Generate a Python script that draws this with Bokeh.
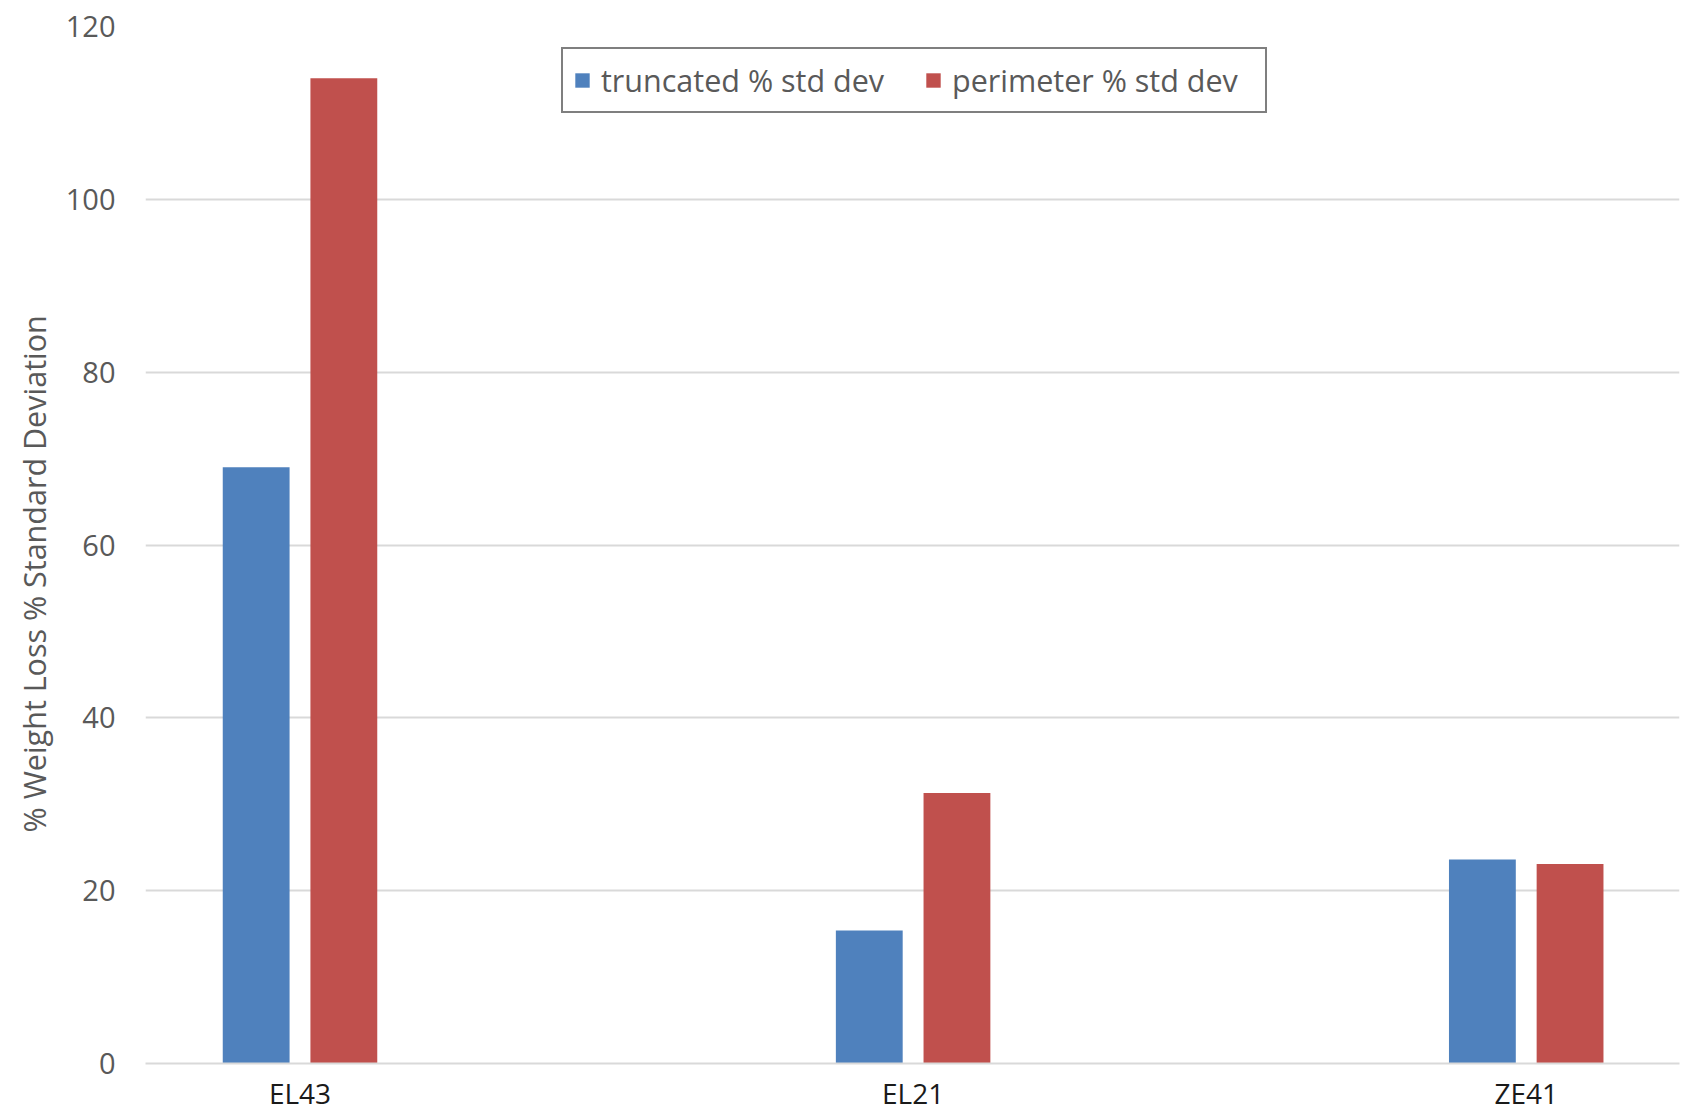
from bokeh.plotting import figure
from bokeh.models import ColumnDataSource, Range1d, FixedTicker, Legend, Title
from bokeh.transform import dodge
from bokeh.embed import file_html
from bokeh.resources import INLINE

categories = ["EL43", "EL21", "ZE41"]
truncated = [69.0, 15.4, 23.6]
perimeter = [114.0, 31.3, 23.1]
y_ticks = [0, 20, 40, 60, 80, 100, 120]
y_title = "% Weight Loss % Standard Deviation"

FONT = "Open Sans"
GREY = "#595959"

src = ColumnDataSource(dict(
    pos=list(range(len(categories))),
    truncated=truncated,
    perimeter=perimeter,
))

p = figure(width=1690, height=1114, output_backend="svg", toolbar_location=None,
           x_range=Range1d(-0.252, 2.25), y_range=Range1d(0, 120),
           min_border_left=145, min_border_right=11, min_border_top=26,
           min_border_bottom=51)
p.outline_line_color = None
p.background_fill_color = "white"
p.border_fill_color = "white"

r1 = p.vbar(x=dodge("pos", -0.0715, range=p.x_range), top="truncated", width=0.109,
            source=src, fill_color="#4F81BD", line_color=None)
r2 = p.vbar(x=dodge("pos", 0.0715, range=p.x_range), top="perimeter", width=0.109,
            source=src, fill_color="#C0504D", line_color=None)

# axes
p.xaxis.ticker = FixedTicker(ticks=list(range(len(categories))))
p.xaxis.major_label_overrides = {i: c for i, c in enumerate(categories)}
p.xaxis.major_tick_line_color = None
p.xaxis.minor_tick_line_color = None
p.xaxis.axis_line_color = "#D9D9D9"
p.xaxis.axis_line_width = 2
p.xaxis.major_label_text_font = FONT
p.xaxis.major_label_text_font_size = "28px"
p.xaxis.major_label_text_color = "#1a1a1a"
p.xaxis.major_label_standoff = 4

p.yaxis.ticker = FixedTicker(ticks=y_ticks)
p.yaxis.major_tick_line_color = None
p.yaxis.minor_tick_line_color = None
p.yaxis.axis_line_color = None
p.yaxis.major_label_text_font = FONT
p.yaxis.major_label_text_font_size = "29px"
p.yaxis.major_label_text_color = GREY
p.yaxis.major_label_standoff = 24

p.xgrid.grid_line_color = None
p.ygrid.grid_line_color = "#D9D9D9"
p.ygrid.grid_line_width = 2

# y-axis title (sits lower than the frame centre, as in the original)
p.add_layout(Title(text=y_title, align="left", offset=231, standoff=16,
                   text_font=FONT, text_font_size="30.5px", text_font_style="normal",
                   text_color=GREY), "left")

legend = Legend(items=[("truncated % std dev", [r1]), ("perimeter % std dev", [r2])],
                orientation="horizontal", location=(416, 950),
                glyph_width=18, glyph_height=18, label_standoff=10, spacing=20,
                label_width=303, padding=10, margin=0,
                label_text_font=FONT, label_text_font_size="30.5px", label_text_color=GREY,
                border_line_color="black", border_line_width=2,
                background_fill_color="white", background_fill_alpha=1.0)
p.add_layout(legend, "center")

open("out.html", "w").write(file_html(p, INLINE))
